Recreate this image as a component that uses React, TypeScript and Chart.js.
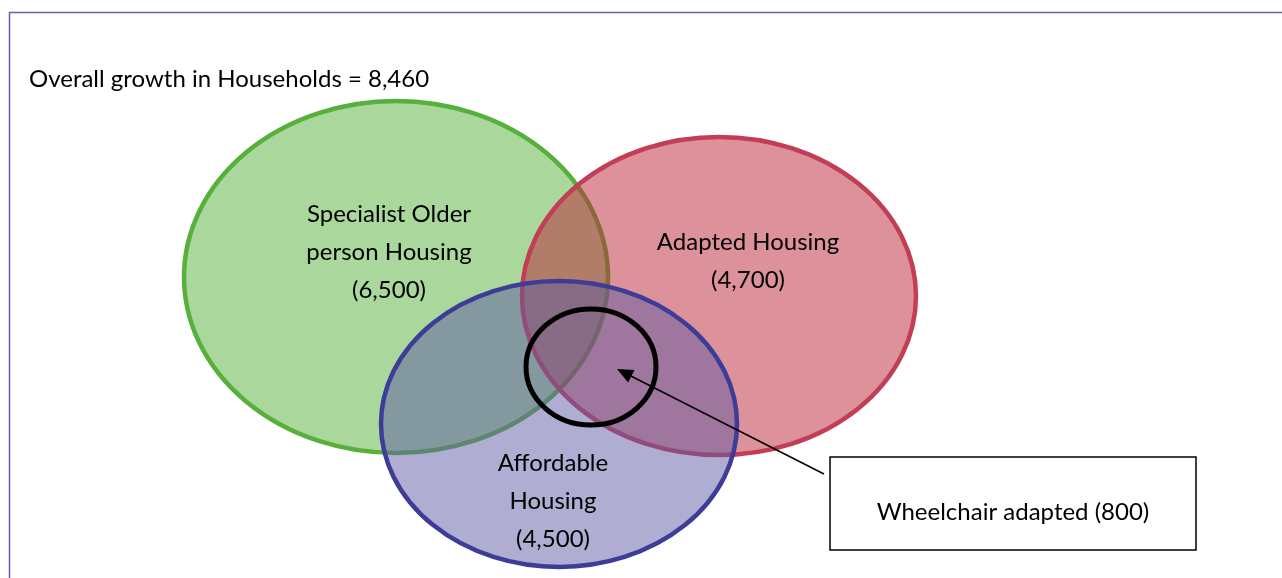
import React, { useEffect, useRef } from "react";
import { Chart, registerables } from "chart.js";

Chart.register(...registerables);

// ---- Data ----
const setNames = ["Specialist Older person Housing", "Adapted Housing", "Affordable Housing"];
const setLabelLines = [
  ["Specialist Older", "person Housing", "(6,500)"],
  ["Adapted Housing", "(4,700)"],
  ["Affordable", "Housing", "(4,500)"],
];
const setCenterX = [396, 719, 559];
const setCenterY = [277, 296, 424];
const setRadiusX = [212, 197, 178];
const setRadiusY = [176, 159, 143];
const setLabelX = [389, 748, 553];
const setLabelY = [252, 261, 501];
const setStroke = ["#58b03c", "#c23d55", "#3d3d97"];
const setFill = ["rgba(84,176,58,0.5)", "rgba(188,36,54,0.5)", "rgba(95,91,163,0.5)"];

const subsetLabel = "Wheelchair adapted (800)";
const subsetCenter = [591, 367];
const subsetRadius = [65, 58];
const calloutBox = [830, 457, 1196, 550]; // x1, y1, x2, y2
const arrowFrom = [824, 474];
const arrowTo = [617, 369];

const titleText = "Overall growth in Households = 8,460";
const titlePos = [29, 79];

const FONT = "Lato, 'Open Sans', 'Noto Sans', sans-serif";

const vennPlugin = {
  id: "venn",
  afterDatasetsDraw(chart: any) {
    const ctx = chart.ctx as CanvasRenderingContext2D;
    const xs = chart.scales.x;
    const ys = chart.scales.y;
    const px = (v: number) => xs.getPixelForValue(v);
    const py = (v: number) => ys.getPixelForValue(v);

    ctx.save();
    // frame
    ctx.strokeStyle = "#6060b4";
    ctx.lineWidth = 1.5;
    ctx.beginPath();
    ctx.moveTo(px(9.5), py(600));
    ctx.lineTo(px(9.5), py(12.5));
    ctx.lineTo(px(1300), py(12.5));
    ctx.stroke();

    // title
    ctx.fillStyle = "#000";
    ctx.font = `24px ${FONT}`;
    ctx.textAlign = "left";
    ctx.textBaseline = "middle";
    ctx.fillText(titleText, px(titlePos[0]), py(titlePos[1]));

    // sets
    const meta = chart.getDatasetMeta(0);
    for (let i = 0; i < setNames.length; i++) {
      const pt = meta.data[i];
      const rx = Math.abs(px(setCenterX[i] + setRadiusX[i]) - px(setCenterX[i]));
      const ry = Math.abs(py(setCenterY[i] + setRadiusY[i]) - py(setCenterY[i]));
      ctx.beginPath();
      ctx.ellipse(pt.x, pt.y, rx, ry, 0, 0, Math.PI * 2);
      ctx.fillStyle = setFill[i];
      ctx.fill();
      ctx.lineWidth = 4.5;
      ctx.strokeStyle = setStroke[i];
      ctx.stroke();
    }

    // subset circle
    {
      const cx = px(subsetCenter[0]);
      const cy = py(subsetCenter[1]);
      const rx = Math.abs(px(subsetCenter[0] + subsetRadius[0]) - cx);
      const ry = Math.abs(py(subsetCenter[1] + subsetRadius[1]) - cy);
      ctx.beginPath();
      ctx.ellipse(cx, cy, rx, ry, 0, 0, Math.PI * 2);
      ctx.lineWidth = 5;
      ctx.strokeStyle = "#000";
      ctx.stroke();
    }

    // set labels
    ctx.fillStyle = "#000";
    ctx.font = `24px ${FONT}`;
    ctx.textAlign = "center";
    ctx.textBaseline = "middle";
    const lh = 38;
    for (let i = 0; i < setNames.length; i++) {
      const lines = setLabelLines[i];
      const x = px(setLabelX[i]);
      const y0 = py(setLabelY[i]) - ((lines.length - 1) * lh) / 2;
      lines.forEach((l, j) => ctx.fillText(l, x, y0 + j * lh));
    }

    // arrow
    const ax = px(arrowFrom[0]), ay = py(arrowFrom[1]);
    const bx = px(arrowTo[0]), by = py(arrowTo[1]);
    const ang = Math.atan2(by - ay, bx - ax);
    const hl = 16, hw = 7;
    ctx.strokeStyle = "#000";
    ctx.lineWidth = 1.5;
    ctx.beginPath();
    ctx.moveTo(ax, ay);
    ctx.lineTo(bx - Math.cos(ang) * hl * 0.8, by - Math.sin(ang) * hl * 0.8);
    ctx.stroke();
    ctx.beginPath();
    ctx.moveTo(bx, by);
    ctx.lineTo(bx - Math.cos(ang) * hl - Math.sin(ang) * hw, by - Math.sin(ang) * hl + Math.cos(ang) * hw);
    ctx.lineTo(bx - Math.cos(ang) * hl + Math.sin(ang) * hw, by - Math.sin(ang) * hl - Math.cos(ang) * hw);
    ctx.closePath();
    ctx.fillStyle = "#000";
    ctx.fill();

    // callout box
    const x1 = px(calloutBox[0]), y1 = py(calloutBox[1]);
    const x2 = px(calloutBox[2]), y2 = py(calloutBox[3]);
    ctx.fillStyle = "#fff";
    ctx.fillRect(x1, y1, x2 - x1, y2 - y1);
    ctx.strokeStyle = "#000";
    ctx.lineWidth = 1.5;
    ctx.strokeRect(x1, y1, x2 - x1, y2 - y1);
    ctx.fillStyle = "#000";
    ctx.font = `24px ${FONT}`;
    ctx.textAlign = "center";
    ctx.fillText(subsetLabel, (x1 + x2) / 2, py(512));
    ctx.restore();
  },
};

export default function App() {
  const ref = useRef<HTMLCanvasElement | null>(null);
  useEffect(() => {
    if (!ref.current) return;
    const chart = new Chart(ref.current, {
      type: "scatter",
      data: {
        datasets: [
          {
            label: "Sets",
            data: setNames.map((_, i) => ({ x: setCenterX[i], y: setCenterY[i] })),
            pointRadius: 0,
            pointHoverRadius: 0,
          },
        ],
      },
      options: {
        animation: false,
        responsive: false,
        layout: { padding: 0 },
        plugins: { legend: { display: false }, tooltip: { enabled: false }, title: { display: false } },
        scales: {
          x: { type: "linear", min: 0, max: 1282, display: false },
          y: { type: "linear", min: 0, max: 578, reverse: true, display: false },
        },
        events: [],
      },
      plugins: [vennPlugin],
    });
    return () => chart.destroy();
  }, []);
  return (
    <div style={{ position: "fixed", left: 0, top: 0, width: 1282, height: 578, background: "#fff" }}>
      <canvas ref={ref} width={1282} height={578} style={{ display: "block" }} />
    </div>
  );
}
